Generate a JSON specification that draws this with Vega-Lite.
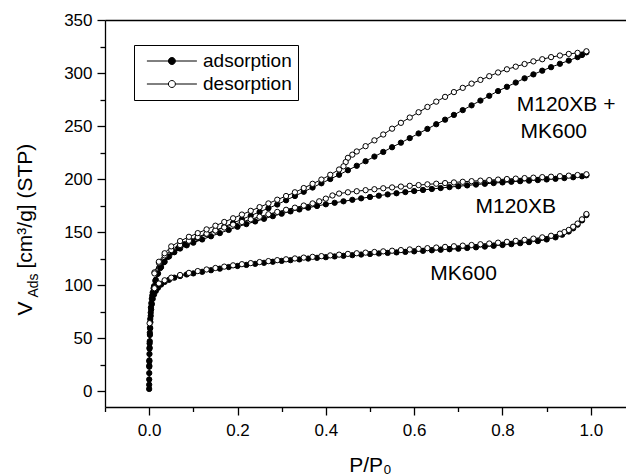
{
"$schema": "https://vega.github.io/schema/vega-lite/v6.json",
"width": 530, "height": 387,
"autosize": {"type": "none"},
"padding": {"left": 105, "top": 20, "right": 0, "bottom": 68},
"background": "white",
"config": {
  "view": {"stroke": null},
  "font": "Liberation Sans",
  "axis": {"domainColor": "black", "domainWidth": 1.3, "tickColor": "black", "tickWidth": 1.3, "labelColor": "black", "titleColor": "black", "titleFontWeight": "normal", "labelFont": "Liberation Sans", "titleFont": "Liberation Sans", "grid": false}
},
"datasets": {
"iso": [
{"s":"MK600","t":"adsorption","p":0.00002,"v":2},{"s":"MK600","t":"adsorption","p":0.00005,"v":6},{"s":"MK600","t":"adsorption","p":0.0001,"v":11},{"s":"MK600","t":"adsorption","p":0.0002,"v":17},{"s":"MK600","t":"adsorption","p":0.0003,"v":23},{"s":"MK600","t":"adsorption","p":0.0005,"v":29},{"s":"MK600","t":"adsorption","p":0.0007,"v":35},{"s":"MK600","t":"adsorption","p":0.001,"v":41},{"s":"MK600","t":"adsorption","p":0.0013,"v":47},{"s":"MK600","t":"adsorption","p":0.0017,"v":53},{"s":"MK600","t":"adsorption","p":0.0022,"v":59},{"s":"MK600","t":"adsorption","p":0.0028,"v":65},{"s":"MK600","t":"adsorption","p":0.0035,"v":71},{"s":"MK600","t":"adsorption","p":0.0045,"v":77},{"s":"MK600","t":"adsorption","p":0.006,"v":82},{"s":"MK600","t":"adsorption","p":0.008,"v":87},{"s":"MK600","t":"adsorption","p":0.011,"v":91},{"s":"MK600","t":"adsorption","p":0.015,"v":94.5},{"s":"MK600","t":"adsorption","p":0.02,"v":97.5},{"s":"MK600","t":"adsorption","p":0.027,"v":100.5},{"s":"MK600","t":"adsorption","p":0.035,"v":103},{"s":"MK600","t":"adsorption","p":0.045,"v":105},{"s":"MK600","t":"adsorption","p":0.057,"v":107},{"s":"MK600","t":"adsorption","p":0.07,"v":108.5},{"s":"MK600","t":"adsorption","p":0.085,"v":110},{"s":"MK600","t":"adsorption","p":0.1,"v":111},{"s":"MK600","t":"adsorption","p":0.12,"v":112.5},{"s":"MK600","t":"adsorption","p":0.14,"v":114},{"s":"MK600","t":"adsorption","p":0.16,"v":115.5},{"s":"MK600","t":"adsorption","p":0.18,"v":117},{"s":"MK600","t":"adsorption","p":0.2,"v":118},{"s":"MK600","t":"adsorption","p":0.22,"v":119},{"s":"MK600","t":"adsorption","p":0.24,"v":120},{"s":"MK600","t":"adsorption","p":0.26,"v":121},{"s":"MK600","t":"adsorption","p":0.28,"v":122},{"s":"MK600","t":"adsorption","p":0.3,"v":122.8},{"s":"MK600","t":"adsorption","p":0.32,"v":123.5},{"s":"MK600","t":"adsorption","p":0.34,"v":124.2},{"s":"MK600","t":"adsorption","p":0.36,"v":125},{"s":"MK600","t":"adsorption","p":0.38,"v":125.7},{"s":"MK600","t":"adsorption","p":0.4,"v":126.3},{"s":"MK600","t":"adsorption","p":0.42,"v":127},{"s":"MK600","t":"adsorption","p":0.44,"v":127.6},{"s":"MK600","t":"adsorption","p":0.46,"v":128.2},{"s":"MK600","t":"adsorption","p":0.48,"v":128.8},{"s":"MK600","t":"adsorption","p":0.5,"v":129.3},{"s":"MK600","t":"adsorption","p":0.52,"v":129.8},{"s":"MK600","t":"adsorption","p":0.54,"v":130.3},{"s":"MK600","t":"adsorption","p":0.56,"v":130.8},{"s":"MK600","t":"adsorption","p":0.58,"v":131.3},{"s":"MK600","t":"adsorption","p":0.6,"v":131.8},{"s":"MK600","t":"adsorption","p":0.62,"v":132.3},{"s":"MK600","t":"adsorption","p":0.64,"v":132.8},{"s":"MK600","t":"adsorption","p":0.66,"v":133.3},{"s":"MK600","t":"adsorption","p":0.68,"v":133.8},{"s":"MK600","t":"adsorption","p":0.7,"v":134.3},{"s":"MK600","t":"adsorption","p":0.72,"v":135},{"s":"MK600","t":"adsorption","p":0.74,"v":135.6},{"s":"MK600","t":"adsorption","p":0.76,"v":136.3},{"s":"MK600","t":"adsorption","p":0.78,"v":137},{"s":"MK600","t":"adsorption","p":0.8,"v":137.8},{"s":"MK600","t":"adsorption","p":0.82,"v":138.6},{"s":"MK600","t":"adsorption","p":0.84,"v":139.5},{"s":"MK600","t":"adsorption","p":0.86,"v":140.5},{"s":"MK600","t":"adsorption","p":0.88,"v":141.5},{"s":"MK600","t":"adsorption","p":0.9,"v":143},{"s":"MK600","t":"adsorption","p":0.92,"v":145},{"s":"MK600","t":"adsorption","p":0.935,"v":147.5},{"s":"MK600","t":"adsorption","p":0.95,"v":150.5},{"s":"MK600","t":"adsorption","p":0.96,"v":153.5},{"s":"MK600","t":"adsorption","p":0.97,"v":157},{"s":"MK600","t":"adsorption","p":0.98,"v":161},{"s":"MK600","t":"adsorption","p":0.99,"v":166},
{"s":"MK600","t":"desorption","p":0.99,"v":167},{"s":"MK600","t":"desorption","p":0.98,"v":162},{"s":"MK600","t":"desorption","p":0.97,"v":158},{"s":"MK600","t":"desorption","p":0.96,"v":155},{"s":"MK600","t":"desorption","p":0.95,"v":152},{"s":"MK600","t":"desorption","p":0.94,"v":150},{"s":"MK600","t":"desorption","p":0.93,"v":148.5},{"s":"MK600","t":"desorption","p":0.91,"v":146.5},{"s":"MK600","t":"desorption","p":0.89,"v":145},{"s":"MK600","t":"desorption","p":0.87,"v":143.8},{"s":"MK600","t":"desorption","p":0.85,"v":142.7},{"s":"MK600","t":"desorption","p":0.83,"v":141.7},{"s":"MK600","t":"desorption","p":0.81,"v":140.8},{"s":"MK600","t":"desorption","p":0.79,"v":140},{"s":"MK600","t":"desorption","p":0.77,"v":139.2},{"s":"MK600","t":"desorption","p":0.75,"v":138.5},{"s":"MK600","t":"desorption","p":0.73,"v":137.8},{"s":"MK600","t":"desorption","p":0.71,"v":137.2},{"s":"MK600","t":"desorption","p":0.69,"v":136.6},{"s":"MK600","t":"desorption","p":0.67,"v":136},{"s":"MK600","t":"desorption","p":0.65,"v":135.4},{"s":"MK600","t":"desorption","p":0.63,"v":134.8},{"s":"MK600","t":"desorption","p":0.61,"v":134.2},{"s":"MK600","t":"desorption","p":0.59,"v":133.6},{"s":"MK600","t":"desorption","p":0.57,"v":133},{"s":"MK600","t":"desorption","p":0.55,"v":132.4},{"s":"MK600","t":"desorption","p":0.53,"v":131.8},{"s":"MK600","t":"desorption","p":0.51,"v":131.2},{"s":"MK600","t":"desorption","p":0.49,"v":130.6},{"s":"MK600","t":"desorption","p":0.47,"v":130},{"s":"MK600","t":"desorption","p":0.45,"v":129.4},{"s":"MK600","t":"desorption","p":0.43,"v":128.7},{"s":"MK600","t":"desorption","p":0.41,"v":128},{"s":"MK600","t":"desorption","p":0.39,"v":127.3},{"s":"MK600","t":"desorption","p":0.37,"v":126.6},{"s":"MK600","t":"desorption","p":0.35,"v":125.9},{"s":"MK600","t":"desorption","p":0.33,"v":125.1},{"s":"MK600","t":"desorption","p":0.31,"v":124.3},{"s":"MK600","t":"desorption","p":0.29,"v":123.5},{"s":"MK600","t":"desorption","p":0.27,"v":122.6},{"s":"MK600","t":"desorption","p":0.25,"v":121.7},{"s":"MK600","t":"desorption","p":0.23,"v":120.7},{"s":"MK600","t":"desorption","p":0.21,"v":119.7},{"s":"MK600","t":"desorption","p":0.19,"v":118.6},{"s":"MK600","t":"desorption","p":0.17,"v":117.4},{"s":"MK600","t":"desorption","p":0.15,"v":116.1},{"s":"MK600","t":"desorption","p":0.13,"v":114.7},{"s":"MK600","t":"desorption","p":0.11,"v":113.2},{"s":"MK600","t":"desorption","p":0.09,"v":111.5},{"s":"MK600","t":"desorption","p":0.07,"v":109.5},{"s":"MK600","t":"desorption","p":0.05,"v":107},{"s":"MK600","t":"desorption","p":0.035,"v":104.5},{"s":"MK600","t":"desorption","p":0.022,"v":101.5},{"s":"MK600","t":"desorption","p":0.012,"v":97},{"s":"MK600","t":"desorption","p":0.001,"v":64},
{"s":"M120XB","t":"adsorption","p":0.0003,"v":24},{"s":"M120XB","t":"adsorption","p":0.0008,"v":40},{"s":"M120XB","t":"adsorption","p":0.0015,"v":55},{"s":"M120XB","t":"adsorption","p":0.0025,"v":68},{"s":"M120XB","t":"adsorption","p":0.004,"v":79},{"s":"M120XB","t":"adsorption","p":0.006,"v":87},{"s":"M120XB","t":"adsorption","p":0.008,"v":93},{"s":"M120XB","t":"adsorption","p":0.011,"v":99},{"s":"M120XB","t":"adsorption","p":0.015,"v":105},{"s":"M120XB","t":"adsorption","p":0.02,"v":111},{"s":"M120XB","t":"adsorption","p":0.027,"v":117},{"s":"M120XB","t":"adsorption","p":0.035,"v":122},{"s":"M120XB","t":"adsorption","p":0.045,"v":127},{"s":"M120XB","t":"adsorption","p":0.057,"v":131},{"s":"M120XB","t":"adsorption","p":0.07,"v":134.5},{"s":"M120XB","t":"adsorption","p":0.085,"v":137.5},{"s":"M120XB","t":"adsorption","p":0.1,"v":140},{"s":"M120XB","t":"adsorption","p":0.12,"v":143},{"s":"M120XB","t":"adsorption","p":0.14,"v":146},{"s":"M120XB","t":"adsorption","p":0.16,"v":149},{"s":"M120XB","t":"adsorption","p":0.18,"v":152},{"s":"M120XB","t":"adsorption","p":0.2,"v":155},{"s":"M120XB","t":"adsorption","p":0.22,"v":157.5},{"s":"M120XB","t":"adsorption","p":0.24,"v":160},{"s":"M120XB","t":"adsorption","p":0.26,"v":162.5},{"s":"M120XB","t":"adsorption","p":0.28,"v":165},{"s":"M120XB","t":"adsorption","p":0.3,"v":167.3},{"s":"M120XB","t":"adsorption","p":0.32,"v":169.5},{"s":"M120XB","t":"adsorption","p":0.34,"v":171.3},{"s":"M120XB","t":"adsorption","p":0.36,"v":173},{"s":"M120XB","t":"adsorption","p":0.38,"v":174.6},{"s":"M120XB","t":"adsorption","p":0.4,"v":176.2},{"s":"M120XB","t":"adsorption","p":0.42,"v":177.6},{"s":"M120XB","t":"adsorption","p":0.44,"v":179},{"s":"M120XB","t":"adsorption","p":0.46,"v":180.4},{"s":"M120XB","t":"adsorption","p":0.48,"v":181.8},{"s":"M120XB","t":"adsorption","p":0.5,"v":183.1},{"s":"M120XB","t":"adsorption","p":0.52,"v":184.3},{"s":"M120XB","t":"adsorption","p":0.54,"v":185.5},{"s":"M120XB","t":"adsorption","p":0.56,"v":186.6},{"s":"M120XB","t":"adsorption","p":0.58,"v":187.7},{"s":"M120XB","t":"adsorption","p":0.6,"v":188.7},{"s":"M120XB","t":"adsorption","p":0.62,"v":189.7},{"s":"M120XB","t":"adsorption","p":0.64,"v":190.6},{"s":"M120XB","t":"adsorption","p":0.66,"v":191.5},{"s":"M120XB","t":"adsorption","p":0.68,"v":192.4},{"s":"M120XB","t":"adsorption","p":0.7,"v":193.2},{"s":"M120XB","t":"adsorption","p":0.72,"v":194},{"s":"M120XB","t":"adsorption","p":0.74,"v":194.8},{"s":"M120XB","t":"adsorption","p":0.76,"v":195.5},{"s":"M120XB","t":"adsorption","p":0.78,"v":196.2},{"s":"M120XB","t":"adsorption","p":0.8,"v":196.8},{"s":"M120XB","t":"adsorption","p":0.82,"v":197.4},{"s":"M120XB","t":"adsorption","p":0.84,"v":198},{"s":"M120XB","t":"adsorption","p":0.86,"v":198.5},{"s":"M120XB","t":"adsorption","p":0.88,"v":199},{"s":"M120XB","t":"adsorption","p":0.9,"v":199.6},{"s":"M120XB","t":"adsorption","p":0.92,"v":200.2},{"s":"M120XB","t":"adsorption","p":0.94,"v":200.9},{"s":"M120XB","t":"adsorption","p":0.96,"v":201.7},{"s":"M120XB","t":"adsorption","p":0.98,"v":202.6},{"s":"M120XB","t":"adsorption","p":0.99,"v":203.5},
{"s":"M120XB","t":"desorption","p":0.99,"v":204.5},{"s":"M120XB","t":"desorption","p":0.97,"v":203.8},{"s":"M120XB","t":"desorption","p":0.95,"v":203.2},{"s":"M120XB","t":"desorption","p":0.93,"v":202.7},{"s":"M120XB","t":"desorption","p":0.91,"v":202.2},{"s":"M120XB","t":"desorption","p":0.89,"v":201.8},{"s":"M120XB","t":"desorption","p":0.87,"v":201.3},{"s":"M120XB","t":"desorption","p":0.85,"v":200.9},{"s":"M120XB","t":"desorption","p":0.83,"v":200.4},{"s":"M120XB","t":"desorption","p":0.81,"v":200},{"s":"M120XB","t":"desorption","p":0.79,"v":199.5},{"s":"M120XB","t":"desorption","p":0.77,"v":199},{"s":"M120XB","t":"desorption","p":0.75,"v":198.5},{"s":"M120XB","t":"desorption","p":0.73,"v":198},{"s":"M120XB","t":"desorption","p":0.71,"v":197.4},{"s":"M120XB","t":"desorption","p":0.69,"v":196.8},{"s":"M120XB","t":"desorption","p":0.67,"v":196.2},{"s":"M120XB","t":"desorption","p":0.65,"v":195.6},{"s":"M120XB","t":"desorption","p":0.63,"v":195},{"s":"M120XB","t":"desorption","p":0.61,"v":194.3},{"s":"M120XB","t":"desorption","p":0.59,"v":193.6},{"s":"M120XB","t":"desorption","p":0.57,"v":192.9},{"s":"M120XB","t":"desorption","p":0.55,"v":192.1},{"s":"M120XB","t":"desorption","p":0.53,"v":191.3},{"s":"M120XB","t":"desorption","p":0.51,"v":190.4},{"s":"M120XB","t":"desorption","p":0.49,"v":189.5},{"s":"M120XB","t":"desorption","p":0.47,"v":188.5},{"s":"M120XB","t":"desorption","p":0.45,"v":187.5},{"s":"M120XB","t":"desorption","p":0.43,"v":186.3},{"s":"M120XB","t":"desorption","p":0.415,"v":184.5},{"s":"M120XB","t":"desorption","p":0.4,"v":181.5},{"s":"M120XB","t":"desorption","p":0.385,"v":179},{"s":"M120XB","t":"desorption","p":0.37,"v":177},{"s":"M120XB","t":"desorption","p":0.35,"v":175},{"s":"M120XB","t":"desorption","p":0.33,"v":173},{"s":"M120XB","t":"desorption","p":0.31,"v":171},{"s":"M120XB","t":"desorption","p":0.29,"v":169},{"s":"M120XB","t":"desorption","p":0.27,"v":166.8},{"s":"M120XB","t":"desorption","p":0.25,"v":164.5},{"s":"M120XB","t":"desorption","p":0.23,"v":162},{"s":"M120XB","t":"desorption","p":0.21,"v":159.5},{"s":"M120XB","t":"desorption","p":0.19,"v":157},{"s":"M120XB","t":"desorption","p":0.17,"v":154.3},{"s":"M120XB","t":"desorption","p":0.15,"v":151.5},{"s":"M120XB","t":"desorption","p":0.13,"v":148.5},{"s":"M120XB","t":"desorption","p":0.11,"v":145.3},{"s":"M120XB","t":"desorption","p":0.09,"v":141.8},{"s":"M120XB","t":"desorption","p":0.07,"v":137.8},{"s":"M120XB","t":"desorption","p":0.05,"v":133},{"s":"M120XB","t":"desorption","p":0.035,"v":128},{"s":"M120XB","t":"desorption","p":0.022,"v":121},{"s":"M120XB","t":"desorption","p":0.012,"v":112},
{"s":"MIX","t":"adsorption","p":0.0004,"v":28},{"s":"MIX","t":"adsorption","p":0.001,"v":45},{"s":"MIX","t":"adsorption","p":0.002,"v":60},{"s":"MIX","t":"adsorption","p":0.0035,"v":74},{"s":"MIX","t":"adsorption","p":0.005,"v":83},{"s":"MIX","t":"adsorption","p":0.007,"v":90},{"s":"MIX","t":"adsorption","p":0.01,"v":97},{"s":"MIX","t":"adsorption","p":0.014,"v":104},{"s":"MIX","t":"adsorption","p":0.019,"v":110.5},{"s":"MIX","t":"adsorption","p":0.025,"v":116},{"s":"MIX","t":"adsorption","p":0.033,"v":121.5},{"s":"MIX","t":"adsorption","p":0.042,"v":126.5},{"s":"MIX","t":"adsorption","p":0.053,"v":131},{"s":"MIX","t":"adsorption","p":0.066,"v":135},{"s":"MIX","t":"adsorption","p":0.08,"v":138.5},{"s":"MIX","t":"adsorption","p":0.095,"v":141.5},{"s":"MIX","t":"adsorption","p":0.11,"v":144.5},{"s":"MIX","t":"adsorption","p":0.13,"v":148},{"s":"MIX","t":"adsorption","p":0.15,"v":151.5},{"s":"MIX","t":"adsorption","p":0.17,"v":155},{"s":"MIX","t":"adsorption","p":0.19,"v":158.5},{"s":"MIX","t":"adsorption","p":0.21,"v":162},{"s":"MIX","t":"adsorption","p":0.23,"v":165.5},{"s":"MIX","t":"adsorption","p":0.25,"v":169},{"s":"MIX","t":"adsorption","p":0.27,"v":172.5},{"s":"MIX","t":"adsorption","p":0.29,"v":176},{"s":"MIX","t":"adsorption","p":0.31,"v":180},{"s":"MIX","t":"adsorption","p":0.33,"v":184},{"s":"MIX","t":"adsorption","p":0.35,"v":188},{"s":"MIX","t":"adsorption","p":0.37,"v":192},{"s":"MIX","t":"adsorption","p":0.39,"v":196},{"s":"MIX","t":"adsorption","p":0.41,"v":200},{"s":"MIX","t":"adsorption","p":0.43,"v":204},{"s":"MIX","t":"adsorption","p":0.45,"v":208.3},{"s":"MIX","t":"adsorption","p":0.47,"v":212.5},{"s":"MIX","t":"adsorption","p":0.49,"v":216.8},{"s":"MIX","t":"adsorption","p":0.51,"v":221.2},{"s":"MIX","t":"adsorption","p":0.53,"v":225.6},{"s":"MIX","t":"adsorption","p":0.55,"v":230},{"s":"MIX","t":"adsorption","p":0.57,"v":234.3},{"s":"MIX","t":"adsorption","p":0.59,"v":238.6},{"s":"MIX","t":"adsorption","p":0.61,"v":243},{"s":"MIX","t":"adsorption","p":0.63,"v":247.3},{"s":"MIX","t":"adsorption","p":0.65,"v":251.7},{"s":"MIX","t":"adsorption","p":0.67,"v":256},{"s":"MIX","t":"adsorption","p":0.69,"v":260.5},{"s":"MIX","t":"adsorption","p":0.71,"v":265},{"s":"MIX","t":"adsorption","p":0.73,"v":269.5},{"s":"MIX","t":"adsorption","p":0.75,"v":274},{"s":"MIX","t":"adsorption","p":0.77,"v":278.5},{"s":"MIX","t":"adsorption","p":0.79,"v":283},{"s":"MIX","t":"adsorption","p":0.81,"v":287},{"s":"MIX","t":"adsorption","p":0.83,"v":291},{"s":"MIX","t":"adsorption","p":0.85,"v":295},{"s":"MIX","t":"adsorption","p":0.87,"v":298.7},{"s":"MIX","t":"adsorption","p":0.89,"v":302.2},{"s":"MIX","t":"adsorption","p":0.91,"v":305.5},{"s":"MIX","t":"adsorption","p":0.93,"v":308.7},{"s":"MIX","t":"adsorption","p":0.95,"v":311.7},{"s":"MIX","t":"adsorption","p":0.97,"v":315},{"s":"MIX","t":"adsorption","p":0.98,"v":317},{"s":"MIX","t":"adsorption","p":0.99,"v":319.5},
{"s":"MIX","t":"desorption","p":0.99,"v":320.5},{"s":"MIX","t":"desorption","p":0.97,"v":319},{"s":"MIX","t":"desorption","p":0.95,"v":318},{"s":"MIX","t":"desorption","p":0.93,"v":316.5},{"s":"MIX","t":"desorption","p":0.91,"v":315},{"s":"MIX","t":"desorption","p":0.89,"v":313},{"s":"MIX","t":"desorption","p":0.87,"v":311},{"s":"MIX","t":"desorption","p":0.85,"v":308.5},{"s":"MIX","t":"desorption","p":0.83,"v":306},{"s":"MIX","t":"desorption","p":0.81,"v":303.5},{"s":"MIX","t":"desorption","p":0.79,"v":300.5},{"s":"MIX","t":"desorption","p":0.77,"v":297},{"s":"MIX","t":"desorption","p":0.75,"v":293.5},{"s":"MIX","t":"desorption","p":0.73,"v":290},{"s":"MIX","t":"desorption","p":0.71,"v":286},{"s":"MIX","t":"desorption","p":0.69,"v":282},{"s":"MIX","t":"desorption","p":0.67,"v":277.5},{"s":"MIX","t":"desorption","p":0.65,"v":273},{"s":"MIX","t":"desorption","p":0.63,"v":268},{"s":"MIX","t":"desorption","p":0.61,"v":263},{"s":"MIX","t":"desorption","p":0.59,"v":258},{"s":"MIX","t":"desorption","p":0.57,"v":253},{"s":"MIX","t":"desorption","p":0.55,"v":247.5},{"s":"MIX","t":"desorption","p":0.53,"v":242},{"s":"MIX","t":"desorption","p":0.51,"v":236.5},{"s":"MIX","t":"desorption","p":0.49,"v":231},{"s":"MIX","t":"desorption","p":0.47,"v":226},{"s":"MIX","t":"desorption","p":0.46,"v":223},{"s":"MIX","t":"desorption","p":0.45,"v":220},{"s":"MIX","t":"desorption","p":0.445,"v":216},{"s":"MIX","t":"desorption","p":0.44,"v":212},{"s":"MIX","t":"desorption","p":0.43,"v":209},{"s":"MIX","t":"desorption","p":0.41,"v":204},{"s":"MIX","t":"desorption","p":0.39,"v":199.5},{"s":"MIX","t":"desorption","p":0.37,"v":195.5},{"s":"MIX","t":"desorption","p":0.35,"v":191.5},{"s":"MIX","t":"desorption","p":0.33,"v":187.5},{"s":"MIX","t":"desorption","p":0.31,"v":184},{"s":"MIX","t":"desorption","p":0.29,"v":180.5},{"s":"MIX","t":"desorption","p":0.27,"v":177},{"s":"MIX","t":"desorption","p":0.25,"v":173.5},{"s":"MIX","t":"desorption","p":0.23,"v":170},{"s":"MIX","t":"desorption","p":0.21,"v":166.5},{"s":"MIX","t":"desorption","p":0.19,"v":163},{"s":"MIX","t":"desorption","p":0.17,"v":159.5},{"s":"MIX","t":"desorption","p":0.15,"v":156},{"s":"MIX","t":"desorption","p":0.13,"v":152.5},{"s":"MIX","t":"desorption","p":0.11,"v":149},{"s":"MIX","t":"desorption","p":0.09,"v":145.5},{"s":"MIX","t":"desorption","p":0.07,"v":141.5},{"s":"MIX","t":"desorption","p":0.05,"v":136.5},{"s":"MIX","t":"desorption","p":0.035,"v":130},{"s":"MIX","t":"desorption","p":0.022,"v":122},{"s":"MIX","t":"desorption","p":0.012,"v":111}
],
"labels": [
{"label":"M120XB +","p":0.944,"v":269.4},
{"label":"MK600","p":0.916,"v":244.8},
{"label":"M120XB","p":0.83,"v":173.2},
{"label":"MK600","p":0.712,"v":110}
]
},
"layer": [
{
  "data": {"name": "iso"},
  "mark": {"type": "line", "color": "black", "strokeWidth": 1},
  "encoding": {
    "x": {"field": "p", "type": "quantitative", "scale": {"domain": [-0.1, 1.1], "nice": false, "zero": false},
      "axis": {"orient": "bottom", "values": [0, 0.2, 0.4, 0.6, 0.8, 1.0], "format": ".1f", "tickSize": 8, "labelFontSize": 17, "labelPadding": 7, "title": "P/P₀", "titleFontSize": 21, "titleY": 64, "titleBaseline": "alphabetic"}},
    "y": {"field": "v", "type": "quantitative", "scale": {"domain": [-15, 350], "nice": false, "zero": false},
      "axis": {"orient": "left", "values": [0, 50, 100, 150, 200, 250, 300, 350], "tickSize": 8, "labelFontSize": 17, "labelPadding": 5, "title": "[cm³/g] (STP)", "titleFontSize": 21, "titleAngle": 270, "titleAlign": "left", "titleBaseline": "alphabetic", "titleX": -74, "titleY": 248}},
    "detail": [{"field": "s"}, {"field": "t"}]
  }
},
{
  "data": {"name": "iso"},
  "transform": [{"filter": "datum.t === 'adsorption'"}],
  "mark": {"type": "circle", "size": 28, "stroke": "black", "strokeWidth": 1, "opacity": 1},
  "encoding": {
    "x": {"field": "p", "type": "quantitative", "scale": {"domain": [-0.1, 1.1], "nice": false, "zero": false},
      "axis": {"orient": "bottom", "values": [-0.1, 0.1, 0.3, 0.5, 0.7, 0.9, 1.1], "labels": false, "tickSize": 4.5, "domain": false, "title": null}},
    "y": {"field": "v", "type": "quantitative", "scale": {"domain": [-15, 350], "nice": false, "zero": false},
      "axis": {"orient": "left", "values": [25, 75, 125, 175, 225, 275, 325], "labels": false, "tickSize": 5, "domain": false, "title": null}},
    "fill": {"field": "t", "type": "nominal", "scale": {"domain": ["adsorption", "desorption"], "range": ["#000000", "#ffffff"]},
      "legend": {"title": null, "orient": "none", "legendX": 29, "legendY": 25, "symbolType": "M-0.744,0L0.116,0M0.396,0L1.256,0M0.116,0A0.14,0.14,0,1,1,0.396,0A0.14,0.14,0,1,1,0.116,0Z", "symbolSize": 2500, "symbolStrokeColor": "black", "symbolStrokeWidth": 1, "symbolOpacity": 1, "clipHeight": 20, "rowPadding": 3, "padding": 6, "labelFontSize": 19, "labelFont": "Liberation Sans", "labelColor": "black", "labelOffset": 12, "labelExpr": "datum.label + '  '", "strokeColor": "black", "fillColor": "white"}}
  }
},
{
  "data": {"name": "iso"},
  "transform": [{"filter": "datum.t === 'desorption'"}],
  "mark": {"type": "circle", "size": 28, "stroke": "black", "strokeWidth": 1, "opacity": 1},
  "encoding": {
    "x": {"field": "p", "type": "quantitative", "scale": {"domain": [-0.1, 1.1], "nice": false, "zero": false}, "axis": null},
    "y": {"field": "v", "type": "quantitative", "scale": {"domain": [-15, 350], "nice": false, "zero": false},
      "axis": {"orient": "left", "labels": false, "ticks": false, "domain": false, "title": "V", "titleFontSize": 21, "titleAngle": 270, "titleAlign": "left", "titleBaseline": "alphabetic", "titleX": -74, "titleY": 295}},
    "fill": {"field": "t", "type": "nominal", "scale": {"domain": ["adsorption", "desorption"], "range": ["#000000", "#ffffff"]}}
  }
},
{
  "data": {"name": "labels"},
  "mark": {"type": "text", "fontSize": 21, "font": "Liberation Sans", "color": "black", "align": "center", "baseline": "middle"},
  "encoding": {
    "x": {"field": "p", "type": "quantitative", "scale": {"domain": [-0.1, 1.1], "nice": false, "zero": false},
      "axis": {"orient": "top", "labels": false, "ticks": false, "domain": true, "title": null}},
    "y": {"field": "v", "type": "quantitative", "scale": {"domain": [-15, 350], "nice": false, "zero": false},
      "axis": {"orient": "left", "labels": false, "ticks": false, "domain": false, "title": "Ads", "titleFontSize": 14, "titleAngle": 270, "titleAlign": "left", "titleBaseline": "alphabetic", "titleX": -67.5, "titleY": 277}},
    "text": {"field": "label"}
  }
}
],
"resolve": {"axis": {"x": "independent", "y": "independent"}}
}
